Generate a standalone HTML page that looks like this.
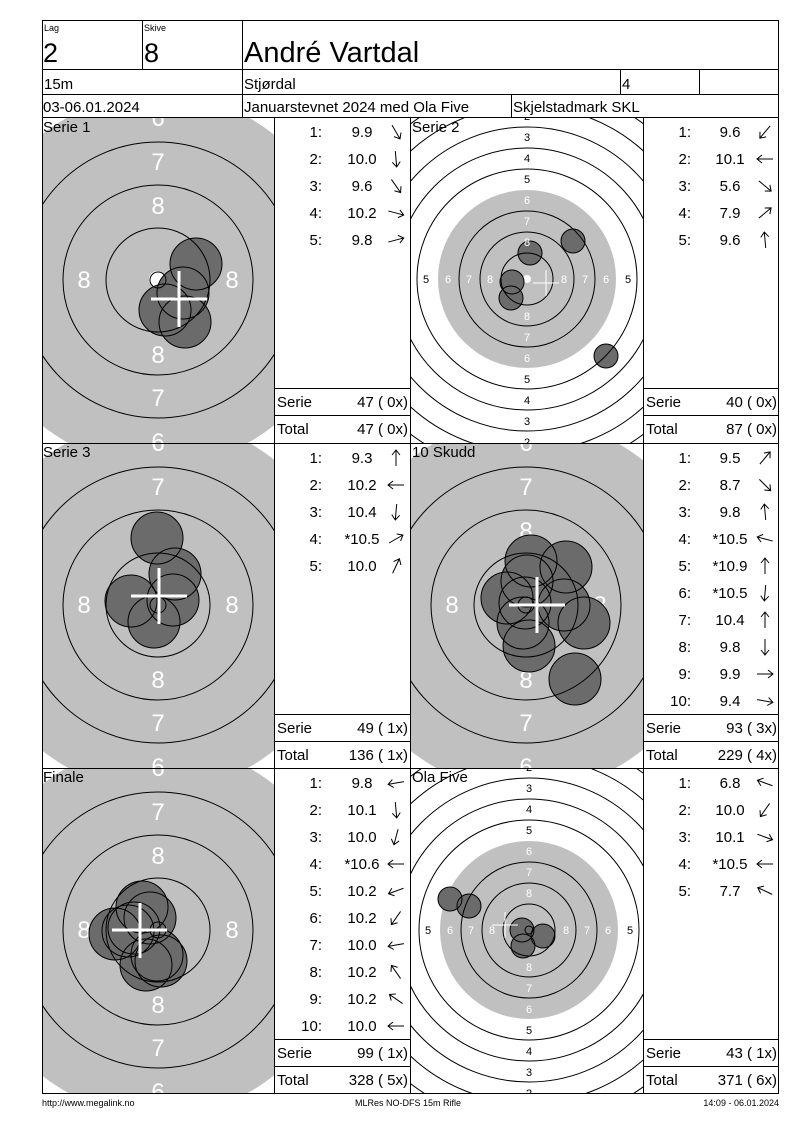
<!DOCTYPE html>
<html><head><meta charset="utf-8"><style>
body{margin:0;background:#fff}
svg{display:block;font-family:"Liberation Sans",Arial,sans-serif}
</style></head><body>
<svg width="800" height="1130" viewBox="0 0 800 1130" xmlns="http://www.w3.org/2000/svg">
<defs>
<clipPath id="c1"><rect x="43" y="118" width="231" height="325"/></clipPath>
<clipPath id="c2"><rect x="411" y="118" width="232" height="325"/></clipPath>
<clipPath id="c3"><rect x="43" y="444" width="231" height="324"/></clipPath>
<clipPath id="c4"><rect x="411" y="444" width="232" height="324"/></clipPath>
<clipPath id="c5"><rect x="43" y="769" width="231" height="324"/></clipPath>
<clipPath id="c6"><rect x="411" y="769" width="232" height="324"/></clipPath>
<path id="ar" d="M-8,0 L8,0 M3,-4 L8,0 L3,4" fill="none" stroke="#000" stroke-width="1"/>
<g id="big">
<circle r="186" fill="#c0c0c0"/>
<g fill="#fff" font-size="24" text-anchor="middle">
<text x="0" y="-154">6</text><text x="0" y="-110">7</text><text x="0" y="-66">8</text>
<text x="0" y="83">8</text><text x="0" y="126">7</text><text x="0" y="170">6</text>
<text x="-74" y="8">8</text><text x="74" y="8">8</text>
</g>
</g>
<g id="bigr" fill="none" stroke="#000" stroke-width="1">
<circle r="8"/><circle r="52"/><circle r="95"/><circle r="138"/>
</g>
<g id="small">
<circle r="89" fill="#c0c0c0"/>
<circle r="4" fill="#fff"/>
</g>
<g id="smallr" fill="none" stroke="#000" stroke-width="1">
<circle r="26"/><circle r="47"/><circle r="68"/><circle r="110"/><circle r="131"/><circle r="152"/><circle r="173"/><circle r="194"/>
</g>
<g id="smallt" font-size="11" text-anchor="middle">
<g fill="#fff">
<text x="0" y="-33">8</text><text x="0" y="-54">7</text><text x="0" y="-75">6</text>
<text x="0" y="41">8</text><text x="0" y="62">7</text><text x="0" y="83">6</text>
<text x="-37" y="4">8</text><text x="-58" y="4">7</text><text x="-79" y="4">6</text>
<text x="37" y="4">8</text><text x="58" y="4">7</text><text x="79" y="4">6</text>
</g>
<g fill="#000">
<text x="0" y="-96">5</text><text x="0" y="-117">4</text><text x="0" y="-138">3</text><text x="0" y="-159">2</text>
<text x="0" y="104">5</text><text x="0" y="125">4</text><text x="0" y="146">3</text><text x="0" y="167">2</text>
<text x="-101" y="4">5</text><text x="101" y="4">5</text>
</g>
</g>
</defs>

<g clip-path="url(#c1)">
<use href="#big" x="158" y="280"/>
<circle cx="157" cy="279" r="8" fill="#fff"/>
<g fill="#6b6b6b" stroke="none">
<circle cx="196" cy="264" r="26"/><circle cx="183" cy="293" r="26"/><circle cx="165" cy="310" r="26"/><circle cx="185" cy="322" r="26"/>
</g>
<g fill="none" stroke="#000">
<circle cx="196" cy="264" r="26"/><circle cx="183" cy="293" r="26"/><circle cx="165" cy="310" r="26"/><circle cx="185" cy="322" r="26"/>
</g>
<use href="#bigr" x="158" y="280"/>
<path d="M151,299 H207 M179,271 V327" stroke="#fff" stroke-width="3"/>
</g>
<text x="43" y="132" font-size="15">Serie 1</text>

<g clip-path="url(#c2)">
<use href="#small" x="527" y="279"/>
<g fill="#6b6b6b">
<circle cx="530" cy="253" r="12"/><circle cx="573" cy="241" r="12"/><circle cx="511" cy="298" r="12"/><circle cx="512" cy="282" r="12"/><circle cx="606" cy="356" r="12"/>
</g>
<g fill="none" stroke="#000">
<circle cx="530" cy="253" r="12"/><circle cx="573" cy="241" r="12"/><circle cx="511" cy="298" r="12"/><circle cx="512" cy="282" r="12"/><circle cx="606" cy="356" r="12"/>
</g>
<use href="#smallr" x="527" y="279"/>
<use href="#smallt" x="527" y="279"/>
<path d="M533,283 H559 M546,270 V296" stroke="#fff" stroke-width="1"/>
</g>
<text x="412" y="132" font-size="15">Serie 2</text>

<g clip-path="url(#c3)">
<use href="#big" x="158" y="605"/>
<g fill="#6b6b6b">
<circle cx="157" cy="538" r="26"/><circle cx="175" cy="574" r="26"/><circle cx="173" cy="600" r="26"/><circle cx="131" cy="601" r="26"/><circle cx="154" cy="622" r="26"/>
</g>
<g fill="none" stroke="#000">
<circle cx="157" cy="538" r="26"/><circle cx="175" cy="574" r="26"/><circle cx="173" cy="600" r="26"/><circle cx="131" cy="601" r="26"/><circle cx="154" cy="622" r="26"/>
</g>
<use href="#bigr" x="158" y="605"/>
<path d="M131,596 H187 M159,568 V624" stroke="#fff" stroke-width="3"/>
</g>
<text x="43" y="457" font-size="15">Serie 3</text>

<g clip-path="url(#c4)">
<use href="#big" x="526" y="605"/>
<g fill="#6b6b6b">
<circle cx="531" cy="561" r="26"/><circle cx="566" cy="567" r="26"/><circle cx="507" cy="598" r="26"/><circle cx="527" cy="581" r="26"/><circle cx="564" cy="605" r="26"/><circle cx="523" cy="623" r="26"/><circle cx="584" cy="623" r="26"/><circle cx="529" cy="646" r="26"/><circle cx="575" cy="679" r="26"/><circle cx="525" cy="603" r="26"/>
</g>
<g fill="none" stroke="#000">
<circle cx="531" cy="561" r="26"/><circle cx="566" cy="567" r="26"/><circle cx="507" cy="598" r="26"/><circle cx="527" cy="581" r="26"/><circle cx="564" cy="605" r="26"/><circle cx="523" cy="623" r="26"/><circle cx="584" cy="623" r="26"/><circle cx="529" cy="646" r="26"/><circle cx="575" cy="679" r="26"/><circle cx="525" cy="603" r="26"/>
</g>
<use href="#bigr" x="526" y="605"/>
<path d="M509,605 H565 M537,577 V633" stroke="#fff" stroke-width="3"/>
</g>
<text x="412" y="457" font-size="15">10 Skudd</text>

<g clip-path="url(#c5)">
<use href="#big" x="158" y="930"/>
<g fill="#6b6b6b">
<circle cx="142" cy="907" r="26"/><circle cx="128" cy="931" r="26"/><circle cx="115" cy="934" r="26"/><circle cx="157" cy="955" r="26"/><circle cx="146" cy="965" r="26"/><circle cx="134" cy="928" r="26"/><circle cx="161" cy="961" r="26"/><circle cx="150" cy="918" r="26"/>
</g>
<g fill="none" stroke="#000">
<circle cx="142" cy="907" r="26"/><circle cx="128" cy="931" r="26"/><circle cx="115" cy="934" r="26"/><circle cx="157" cy="955" r="26"/><circle cx="146" cy="965" r="26"/><circle cx="134" cy="928" r="26"/><circle cx="161" cy="961" r="26"/><circle cx="150" cy="918" r="26"/>
</g>
<use href="#bigr" x="158" y="930"/>
<path d="M112,930 H167 M140,903 V958" stroke="#fff" stroke-width="3"/>
</g>
<text x="43" y="782" font-size="15">Finale</text>

<g clip-path="url(#c6)">
<use href="#small" x="529" y="930"/>
<g fill="#6b6b6b">
<circle cx="450" cy="899" r="12"/><circle cx="469" cy="906" r="12"/><circle cx="522" cy="930" r="12"/><circle cx="543" cy="936" r="12"/><circle cx="523" cy="946" r="12"/>
</g>
<g fill="none" stroke="#000">
<circle cx="450" cy="899" r="12"/><circle cx="469" cy="906" r="12"/><circle cx="522" cy="930" r="12"/><circle cx="543" cy="936" r="12"/><circle cx="523" cy="946" r="12"/>
</g>
<use href="#smallr" x="529" y="930"/>
<circle cx="529" cy="930" r="4" fill="none" stroke="#000"/>
<use href="#smallt" x="529" y="930"/>
<path d="M492,925 H518 M505,912 V938" stroke="#fff" stroke-width="1"/>
</g>
<text x="412" y="782" font-size="15">Ola Five</text>

<g font-size="15">
<g text-anchor="end"><text x="322" y="137">1:</text><text x="322" y="164">2:</text><text x="322" y="191">3:</text><text x="322" y="218">4:</text><text x="322" y="245">5:</text></g>
<g text-anchor="middle"><text x="362" y="137">9.9</text><text x="362" y="164">10.0</text><text x="362" y="191">9.6</text><text x="362" y="218">10.2</text><text x="362" y="245">9.8</text></g>
<g text-anchor="end"><text x="691" y="137">1:</text><text x="691" y="164">2:</text><text x="691" y="191">3:</text><text x="691" y="218">4:</text><text x="691" y="245">5:</text></g>
<g text-anchor="middle"><text x="730" y="137">9.6</text><text x="730" y="164">10.1</text><text x="730" y="191">5.6</text><text x="730" y="218">7.9</text><text x="730" y="245">9.6</text></g>
<g text-anchor="end"><text x="322" y="463">1:</text><text x="322" y="490">2:</text><text x="322" y="517">3:</text><text x="322" y="544">4:</text><text x="322" y="571">5:</text></g>
<g text-anchor="middle"><text x="362" y="463">9.3</text><text x="362" y="490">10.2</text><text x="362" y="517">10.4</text><text x="362" y="544">*10.5</text><text x="362" y="571">10.0</text></g>
<g text-anchor="end"><text x="691" y="463">1:</text><text x="691" y="490">2:</text><text x="691" y="517">3:</text><text x="691" y="544">4:</text><text x="691" y="571">5:</text><text x="691" y="598">6:</text><text x="691" y="625">7:</text><text x="691" y="652">8:</text><text x="691" y="679">9:</text><text x="691" y="706">10:</text></g>
<g text-anchor="middle"><text x="730" y="463">9.5</text><text x="730" y="490">8.7</text><text x="730" y="517">9.8</text><text x="730" y="544">*10.5</text><text x="730" y="571">*10.9</text><text x="730" y="598">*10.5</text><text x="730" y="625">10.4</text><text x="730" y="652">9.8</text><text x="730" y="679">9.9</text><text x="730" y="706">9.4</text></g>
<g text-anchor="end"><text x="322" y="788">1:</text><text x="322" y="815">2:</text><text x="322" y="842">3:</text><text x="322" y="869">4:</text><text x="322" y="896">5:</text><text x="322" y="923">6:</text><text x="322" y="950">7:</text><text x="322" y="977">8:</text><text x="322" y="1004">9:</text><text x="322" y="1031">10:</text></g>
<g text-anchor="middle"><text x="362" y="788">9.8</text><text x="362" y="815">10.1</text><text x="362" y="842">10.0</text><text x="362" y="869">*10.6</text><text x="362" y="896">10.2</text><text x="362" y="923">10.2</text><text x="362" y="950">10.0</text><text x="362" y="977">10.2</text><text x="362" y="1004">10.2</text><text x="362" y="1031">10.0</text></g>
<g text-anchor="end"><text x="691" y="788">1:</text><text x="691" y="815">2:</text><text x="691" y="842">3:</text><text x="691" y="869">4:</text><text x="691" y="896">5:</text></g>
<g text-anchor="middle"><text x="730" y="788">6.8</text><text x="730" y="815">10.0</text><text x="730" y="842">10.1</text><text x="730" y="869">*10.5</text><text x="730" y="896">7.7</text></g>

<text x="277" y="407">Serie</text><text x="277" y="434">Total</text>
<text x="646" y="407">Serie</text><text x="646" y="434">Total</text>
<text x="277" y="733">Serie</text><text x="277" y="760">Total</text>
<text x="646" y="733">Serie</text><text x="646" y="760">Total</text>
<text x="277" y="1058">Serie</text><text x="277" y="1085">Total</text>
<text x="646" y="1058">Serie</text><text x="646" y="1085">Total</text>
<g text-anchor="end">
<text x="408" y="407">47 ( 0x)</text><text x="408" y="434">47 ( 0x)</text>
<text x="777" y="407">40 ( 0x)</text><text x="777" y="434">87 ( 0x)</text>
<text x="408" y="733">49 ( 1x)</text><text x="408" y="760">136 ( 1x)</text>
<text x="777" y="733">93 ( 3x)</text><text x="777" y="760">229 ( 4x)</text>
<text x="408" y="1058">99 ( 1x)</text><text x="408" y="1085">328 ( 5x)</text>
<text x="777" y="1058">43 ( 1x)</text><text x="777" y="1085">371 ( 6x)</text>
</g>
</g>

<use href="#ar" transform="translate(396,132) rotate(60)"/>
<use href="#ar" transform="translate(396,159) rotate(85)"/>
<use href="#ar" transform="translate(396,186) rotate(55)"/>
<use href="#ar" transform="translate(396,213) rotate(15)"/>
<use href="#ar" transform="translate(396,240) rotate(-15)"/>

<use href="#ar" transform="translate(765,132) rotate(130)"/>
<use href="#ar" transform="translate(765,159) rotate(180)"/>
<use href="#ar" transform="translate(765,186) rotate(40)"/>
<use href="#ar" transform="translate(765,213) rotate(-40)"/>
<use href="#ar" transform="translate(765,240) rotate(-95)"/>

<use href="#ar" transform="translate(396,458) rotate(-90)"/>
<use href="#ar" transform="translate(396,485) rotate(180)"/>
<use href="#ar" transform="translate(396,512) rotate(95)"/>
<use href="#ar" transform="translate(396,539) rotate(-30)"/>
<use href="#ar" transform="translate(396,566) rotate(-65)"/>

<use href="#ar" transform="translate(765,458) rotate(-50)"/>
<use href="#ar" transform="translate(765,485) rotate(45)"/>
<use href="#ar" transform="translate(765,512) rotate(-95)"/>
<use href="#ar" transform="translate(765,539) rotate(-165)"/>
<use href="#ar" transform="translate(765,566) rotate(-90)"/>
<use href="#ar" transform="translate(765,593) rotate(95)"/>
<use href="#ar" transform="translate(765,620) rotate(-90)"/>
<use href="#ar" transform="translate(765,647) rotate(90)"/>
<use href="#ar" transform="translate(765,674) rotate(0)"/>
<use href="#ar" transform="translate(765,701) rotate(10)"/>

<use href="#ar" transform="translate(396,783) rotate(170)"/>
<use href="#ar" transform="translate(396,810) rotate(85)"/>
<use href="#ar" transform="translate(396,837) rotate(105)"/>
<use href="#ar" transform="translate(396,864) rotate(180)"/>
<use href="#ar" transform="translate(396,891) rotate(160)"/>
<use href="#ar" transform="translate(396,918) rotate(125)"/>
<use href="#ar" transform="translate(396,945) rotate(170)"/>
<use href="#ar" transform="translate(396,972) rotate(-125)"/>
<use href="#ar" transform="translate(396,999) rotate(-145)"/>
<use href="#ar" transform="translate(396,1026) rotate(180)"/>

<use href="#ar" transform="translate(765,783) rotate(-160)"/>
<use href="#ar" transform="translate(765,810) rotate(125)"/>
<use href="#ar" transform="translate(765,837) rotate(20)"/>
<use href="#ar" transform="translate(765,864) rotate(180)"/>
<use href="#ar" transform="translate(765,891) rotate(-155)"/>

<g stroke="#000" stroke-width="1" fill="none" shape-rendering="crispEdges">
<rect x="42.5" y="20.5" width="736" height="1073"/>
<line x1="42" y1="69.5" x2="779" y2="69.5"/>
<line x1="42" y1="94.5" x2="779" y2="94.5"/>
<line x1="42" y1="117.5" x2="779" y2="117.5"/>
<line x1="142.5" y1="20" x2="142.5" y2="69"/>
<line x1="242.5" y1="20" x2="242.5" y2="117"/>
<line x1="620.5" y1="69" x2="620.5" y2="94"/>
<line x1="699.5" y1="69" x2="699.5" y2="94"/>
<line x1="511.5" y1="94" x2="511.5" y2="117"/>
<line x1="274.5" y1="117" x2="274.5" y2="1093"/>
<line x1="410.5" y1="117" x2="410.5" y2="1093"/>
<line x1="643.5" y1="117" x2="643.5" y2="1093"/>
<line x1="42" y1="443.5" x2="779" y2="443.5"/>
<line x1="42" y1="768.5" x2="779" y2="768.5"/>
<line x1="274" y1="388.5" x2="410" y2="388.5"/><line x1="274" y1="415.5" x2="410" y2="415.5"/>
<line x1="643" y1="388.5" x2="779" y2="388.5"/><line x1="643" y1="415.5" x2="779" y2="415.5"/>
<line x1="274" y1="714.5" x2="410" y2="714.5"/><line x1="274" y1="741.5" x2="410" y2="741.5"/>
<line x1="643" y1="714.5" x2="779" y2="714.5"/><line x1="643" y1="741.5" x2="779" y2="741.5"/>
<line x1="274" y1="1039.5" x2="410" y2="1039.5"/><line x1="274" y1="1066.5" x2="410" y2="1066.5"/>
<line x1="643" y1="1039.5" x2="779" y2="1039.5"/><line x1="643" y1="1066.5" x2="779" y2="1066.5"/>
</g>

<text x="44" y="31" font-size="9">Lag</text>
<text x="144" y="31" font-size="9">Skive</text>
<text x="43" y="62" font-size="27">2</text>
<text x="144" y="62" font-size="27">8</text>
<text x="244" y="62" font-size="29">André Vartdal</text>
<g font-size="15">
<text x="44" y="89">15m</text>
<text x="244" y="89">Stjørdal</text>
<text x="622" y="89">4</text>
<text x="43" y="112">03-06.01.2024</text>
<text x="244" y="112">Januarstevnet 2024 med Ola Five</text>
<text x="513" y="112">Skjelstadmark SKL</text>
</g>

<g font-size="9">
<text x="42" y="1106">http://www.megalink.no</text>
<text x="408" y="1106" text-anchor="middle">MLRes NO-DFS 15m Rifle</text>
<text x="779" y="1106" text-anchor="end">14:09 - 06.01.2024</text>
</g>
</svg>
</body></html>
